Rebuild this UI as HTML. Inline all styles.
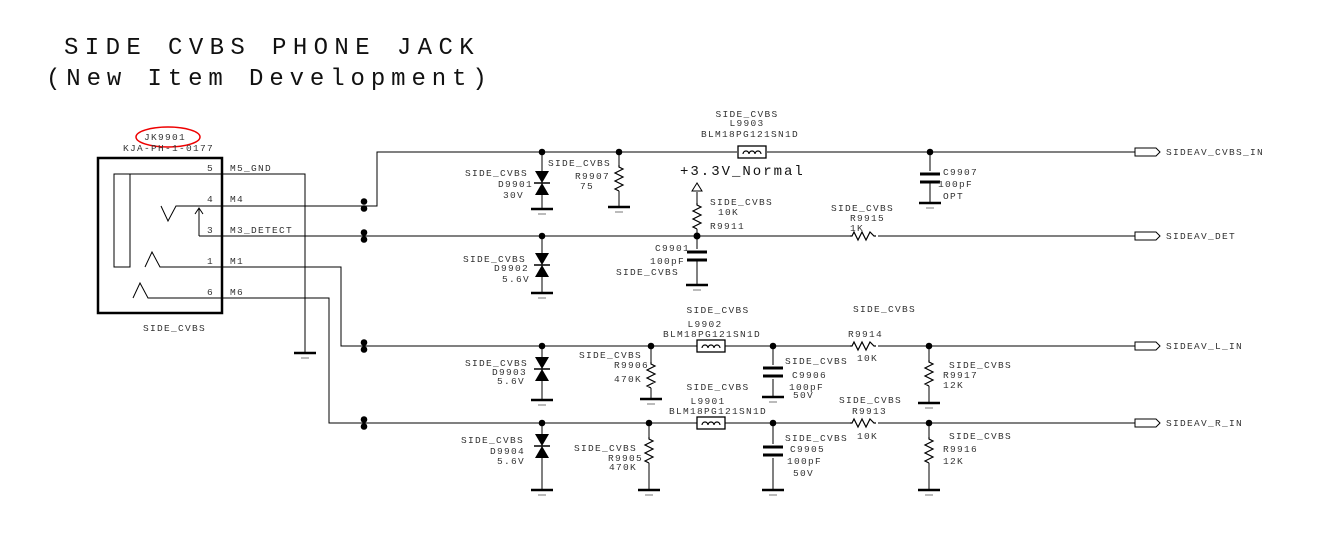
<!DOCTYPE html>
<html><head><meta charset="utf-8"><style>
html,body{margin:0;padding:0;background:#fff;}
svg{display:block}
.t{font-family:"Liberation Mono",monospace;font-size:9.5px;letter-spacing:1.3px;fill:#333}
.T{font-family:"Liberation Mono",monospace;font-size:24px;letter-spacing:6.4px;fill:#111}
</style></head><body>
<svg width="1337" height="560" viewBox="0 0 1337 560" xmlns="http://www.w3.org/2000/svg">
<defs>
<g id="gnd"><line x1="-11" y1="0" x2="11" y2="0" stroke="#000" stroke-width="2.5"/><line x1="-4" y1="5" x2="4" y2="5" stroke="#777" stroke-width="1"/></g>
<g id="rv"><polyline points="0,0 0,2 4,4 -4,8 4,12 -4,16 4,20 -4,24 0,26" fill="none" stroke="#000" stroke-width="1.2"/></g>
<g id="rh"><polyline points="0,0 2,0 4,-4 8,4 12,-4 16,4 20,-4 24,0 26,0" fill="none" stroke="#000" stroke-width="1.2"/></g>
<g id="dio"><polygon points="-7,0 7,0 0,12" fill="#000"/><polygon points="-7,24 7,24 0,12" fill="#000"/><line x1="-8" y1="12" x2="8" y2="12" stroke="#000" stroke-width="1.5"/></g>
<g id="cap"><line x1="-10" y1="0" x2="10" y2="0" stroke="#000" stroke-width="3"/><line x1="-10" y1="8" x2="10" y2="8" stroke="#000" stroke-width="3"/></g>
<g id="ind"><rect x="0" y="-6" width="28" height="12" fill="#fff" stroke="#000" stroke-width="1.3"/><path d="M5,2 a3,3 0 1 1 6,0 a3,3 0 1 1 6,0 a3,3 0 1 1 6,0" fill="none" stroke="#000" stroke-width="1.2"/></g>
<g id="con"><polygon points="0,-4 21,-4 25,0 21,4 0,4" fill="#fff" stroke="#000" stroke-width="1"/></g>
<g id="dd"><circle cx="0" cy="-3.5" r="3.3" fill="#000"/><circle cx="0" cy="3.5" r="3.3" fill="#000"/></g>
</defs>

<text class="T" x="64" y="54">SIDE CVBS PHONE JACK</text>
<text class="T" x="46" y="85" style="letter-spacing:5.9px">(New Item Development)</text>

<!-- jack -->
<ellipse cx="168" cy="137" rx="32" ry="10" fill="none" stroke="#e00" stroke-width="1.5"/>
<text class="t" x="144" y="140">JK9901</text>
<text class="t" x="123" y="151">KJA-PH-1-0177</text>
<rect x="98" y="158" width="124" height="155" fill="none" stroke="#000" stroke-width="2.5"/>
<text class="t" x="143" y="331">SIDE_CVBS</text>
<rect x="114" y="174" width="16" height="93" fill="none" stroke="#000" stroke-width="1"/>
<g stroke="#000" stroke-width="1" fill="none">
<polyline points="130,174 305,174 305,352"/>
<polyline points="161,206 168,221 176,206 362,206"/>
<polyline points="199,236 199,209"/>
<polyline points="195,214 199,208 203,214"/>
<line x1="199" y1="236" x2="1135" y2="236"/>
<polyline points="145,267 152,252 160,267 341,267 341,346 1135,346"/>
<polyline points="133,298 140,283 148,298 329,298 329,423 1135,423"/>
<polyline points="362,206 377,206 377,152 1135,152"/>
</g>
<use href="#gnd" x="305" y="353"/>
<g class="t">
<text x="207" y="171">5</text><text x="230" y="171">M5_GND</text>
<text x="207" y="202">4</text><text x="230" y="202">M4</text>
<text x="207" y="233">3</text><text x="230" y="233">M3_DETECT</text>
<text x="207" y="264">1</text><text x="230" y="264">M1</text>
<text x="207" y="295">6</text><text x="230" y="295">M6</text>
</g>
<use href="#dd" x="364" y="205"/><use href="#dd" x="364" y="236"/><use href="#dd" x="364" y="346"/><use href="#dd" x="364" y="423"/>

<!-- CVBS row y=152 -->
<g stroke="#000" stroke-width="1" fill="none">
<line x1="542" y1="152" x2="542" y2="208"/>
<line x1="619" y1="152" x2="619" y2="165"/><line x1="619" y1="191" x2="619" y2="207"/>
<line x1="930" y1="152" x2="930" y2="203"/>
<line x1="697" y1="192" x2="697" y2="203"/><line x1="697" y1="229" x2="697" y2="285"/>
<line x1="542" y1="236" x2="542" y2="292"/>
</g>
<rect x="737" y="146" width="30" height="12" fill="#fff"/>
<use href="#ind" x="738" y="152"/>
<circle cx="542" cy="152" r="3.3"/><circle cx="619" cy="152" r="3.3"/><circle cx="930" cy="152" r="3.3"/>
<use href="#dio" x="542" y="171"/><use href="#gnd" x="542" y="209"/>
<use href="#rv" x="619" y="165"/><use href="#gnd" x="619" y="207"/>
<rect x="918" y="171" width="24" height="12" fill="#fff"/>
<use href="#cap" x="930" y="174"/><use href="#gnd" x="930" y="203"/>
<polygon points="697,183 692,191 702,191" fill="#fff" stroke="#000"/>
<use href="#rv" x="697" y="203"/>
<circle cx="697" cy="236" r="3.5"/>
<rect x="685" y="249" width="24" height="12" fill="#fff"/>
<use href="#cap" x="697" y="252"/><use href="#gnd" x="697" y="285"/>
<rect x="850" y="230" width="28" height="12" fill="#fff"/>
<use href="#rh" x="850" y="236"/>
<circle cx="542" cy="236" r="3.3"/>
<use href="#dio" x="542" y="253"/><use href="#gnd" x="542" y="293"/>
<use href="#con" x="1135" y="152"/><use href="#con" x="1135" y="236"/>
<g class="t">
<text x="747" y="117" text-anchor="middle">SIDE_CVBS</text>
<text x="747" y="126" text-anchor="middle">L9903</text>
<text x="750" y="137" text-anchor="middle">BLM18PG121SN1D</text>
<text x="465" y="176">SIDE_CVBS</text><text x="533" y="187" text-anchor="end">D9901</text><text x="503" y="198">30V</text>
<text x="548" y="166">SIDE_CVBS</text><text x="575" y="179">R9907</text><text x="580" y="189">75</text>
<text x="943" y="175">C9907</text><text x="938" y="187">100pF</text><text x="943" y="199">OPT</text>
<text x="710" y="205">SIDE_CVBS</text><text x="718" y="215">10K</text><text x="710" y="229">R9911</text>
<text x="690" y="251" text-anchor="end">C9901</text><text x="650" y="264">100pF</text><text x="616" y="275">SIDE_CVBS</text>
<text x="831" y="211">SIDE_CVBS</text><text x="850" y="221">R9915</text><text x="850" y="231">1K</text>
<text x="463" y="262">SIDE_CVBS</text><text x="529" y="271" text-anchor="end">D9902</text><text x="502" y="282">5.6V</text>
<text x="1166" y="155">SIDEAV_CVBS_IN</text><text x="1166" y="239">SIDEAV_DET</text>
<text x="1166" y="349">SIDEAV_L_IN</text><text x="1166" y="426">SIDEAV_R_IN</text>
</g>
<text class="T" x="680" y="175" style="font-size:14px;letter-spacing:2px">+3.3V_Normal</text>

<!-- L row y=346 -->
<g stroke="#000" stroke-width="1" fill="none">
<line x1="542" y1="346" x2="542" y2="400"/>
<line x1="651" y1="346" x2="651" y2="362"/><line x1="651" y1="388" x2="651" y2="399"/>
<line x1="773" y1="346" x2="773" y2="397"/>
<line x1="929" y1="346" x2="929" y2="360"/><line x1="929" y1="386" x2="929" y2="403"/>
<line x1="542" y1="423" x2="542" y2="490"/>
<line x1="649" y1="423" x2="649" y2="437"/><line x1="649" y1="463" x2="649" y2="490"/>
<line x1="773" y1="423" x2="773" y2="490"/>
<line x1="929" y1="423" x2="929" y2="437"/><line x1="929" y1="463" x2="929" y2="490"/>
</g>
<circle cx="542" cy="346" r="3.3"/><circle cx="651" cy="346" r="3.3"/><circle cx="773" cy="346" r="3.3"/><circle cx="929" cy="346" r="3.3"/>
<circle cx="542" cy="423" r="3.3"/><circle cx="649" cy="423" r="3.3"/><circle cx="773" cy="423" r="3.3"/><circle cx="929" cy="423" r="3.3"/>
<use href="#dio" x="542" y="357"/><use href="#gnd" x="542" y="400"/>
<use href="#rv" x="651" y="362"/><use href="#gnd" x="651" y="399"/>
<use href="#ind" x="697" y="346"/>
<rect x="761" y="365" width="24" height="14" fill="#fff"/>
<use href="#cap" x="773" y="368"/><use href="#gnd" x="773" y="397"/>
<rect x="850" y="340" width="28" height="12" fill="#fff"/><use href="#rh" x="850" y="346"/>
<use href="#rv" x="929" y="360"/><use href="#gnd" x="929" y="403"/>
<use href="#con" x="1135" y="346"/>

<use href="#dio" x="542" y="434"/><use href="#gnd" x="542" y="490"/>
<use href="#rv" x="649" y="437"/><use href="#gnd" x="649" y="490"/>
<use href="#ind" x="697" y="423"/>
<rect x="761" y="444" width="24" height="14" fill="#fff"/>
<use href="#cap" x="773" y="447"/><use href="#gnd" x="773" y="490"/>
<rect x="850" y="417" width="28" height="12" fill="#fff"/><use href="#rh" x="850" y="423"/>
<use href="#rv" x="929" y="437"/><use href="#gnd" x="929" y="490"/>
<use href="#con" x="1135" y="423"/>

<g class="t">
<text x="465" y="366">SIDE_CVBS</text><text x="527" y="375" text-anchor="end">D9903</text><text x="497" y="384">5.6V</text>
<text x="579" y="358">SIDE_CVBS</text><text x="614" y="368">R9906</text><text x="614" y="382">470K</text>
<text x="718" y="313" text-anchor="middle">SIDE_CVBS</text><text x="705" y="327" text-anchor="middle">L9902</text><text x="712" y="337" text-anchor="middle">BLM18PG121SN1D</text>
<text x="785" y="364">SIDE_CVBS</text><text x="792" y="378">C9906</text><text x="789" y="390">100pF</text><text x="793" y="398">50V</text>
<text x="853" y="312">SIDE_CVBS</text><text x="848" y="337">R9914</text><text x="857" y="361">10K</text>
<text x="949" y="368">SIDE_CVBS</text><text x="943" y="378">R9917</text><text x="943" y="388">12K</text>

<text x="461" y="443">SIDE_CVBS</text><text x="525" y="454" text-anchor="end">D9904</text><text x="497" y="464">5.6V</text>
<text x="574" y="451">SIDE_CVBS</text><text x="608" y="461">R9905</text><text x="609" y="470">470K</text>
<text x="718" y="390" text-anchor="middle">SIDE_CVBS</text><text x="708" y="404" text-anchor="middle">L9901</text><text x="718" y="414" text-anchor="middle">BLM18PG121SN1D</text>
<text x="785" y="441">SIDE_CVBS</text><text x="790" y="452">C9905</text><text x="787" y="464">100pF</text><text x="793" y="476">50V</text>
<text x="839" y="403">SIDE_CVBS</text><text x="852" y="414">R9913</text><text x="857" y="439">10K</text>
<text x="949" y="439">SIDE_CVBS</text><text x="943" y="452">R9916</text><text x="943" y="464">12K</text>
</g>
</svg>
</body></html>
